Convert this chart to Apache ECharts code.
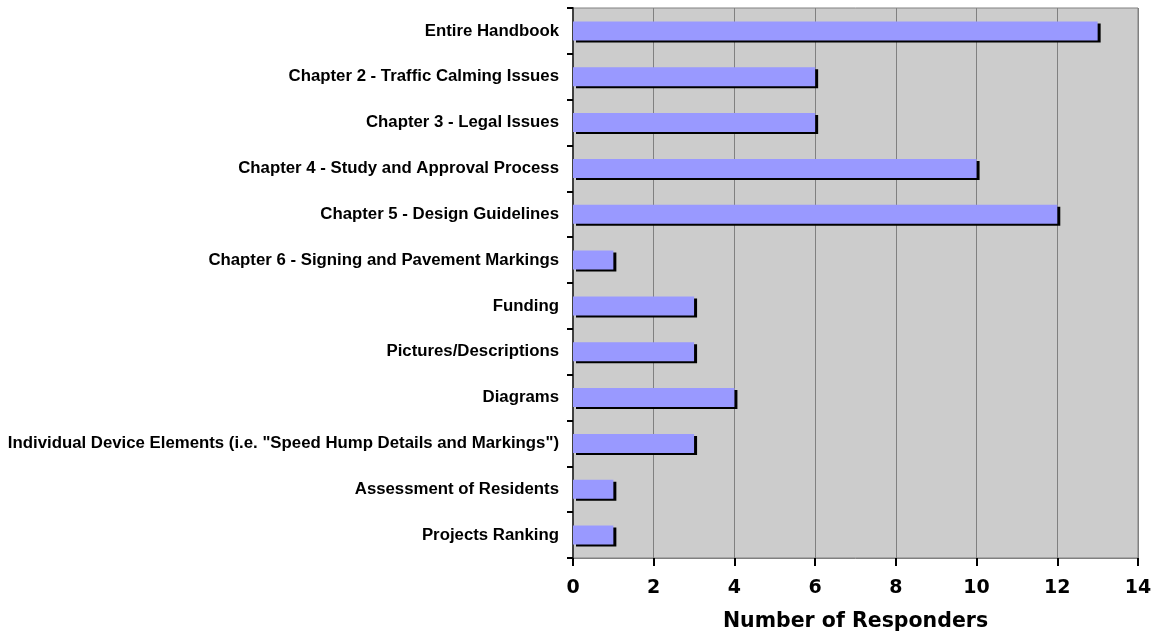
<!DOCTYPE html>
<html>
<head>
<meta charset="utf-8">
<script src="https://cdn.jsdelivr.net/npm/echarts@6/dist/echarts.min.js"></script>
<style>html,body{margin:0;padding:0;background:#fff}#c{width:1158px;height:637px}</style>
</head>
<body>
<div id="c"></div>
<script>
const categories = [
  "Entire Handbook",
  "Chapter 2 - Traffic Calming Issues",
  "Chapter 3 - Legal Issues",
  "Chapter 4 - Study and Approval Process",
  "Chapter 5 - Design Guidelines",
  "Chapter 6 - Signing and Pavement Markings",
  "Funding",
  "Pictures/Descriptions",
  "Diagrams",
  "Individual Device Elements (i.e. \"Speed Hump Details and Markings\")",
  "Assessment of Residents",
  "Projects Ranking"
];
const responders = [13, 6, 6, 10, 12, 1, 3, 3, 4, 3, 1, 1];
const xTicks = { min: 0, max: 14, interval: 2 };
const xTitle = "Number of Responders";

const chart = echarts.init(document.getElementById('c'), null, { renderer: 'canvas' });
chart.setOption({
  animation: false,
  grid: {
    left: 573, top: 8, right: 20, bottom: 78,
    show: true, backgroundColor: '#cccccc', borderColor: '#808080', borderWidth: 1
  },
  xAxis: {
    type: 'value', min: xTicks.min, max: xTicks.max, interval: xTicks.interval,
    name: xTitle, nameLocation: 'middle', nameGap: 53,
    nameTextStyle: { fontFamily: 'DejaVu Sans', fontWeight: 'bold', fontSize: 20.5, color: '#000' },
    axisLine: { show: true, lineStyle: { color: '#808080', width: 1 } },
    axisTick: { show: true, length: 8, lineStyle: { color: '#000', width: 2 } },
    axisLabel: { fontFamily: 'DejaVu Sans', fontWeight: 'bold', fontSize: 19, color: '#000', margin: 21 },
    splitLine: { show: true, lineStyle: { color: '#808080', width: 1 } }
  },
  yAxis: {
    type: 'category', data: categories, inverse: true,
    axisLine: { show: true, lineStyle: { color: '#404040', width: 2 } },
    axisTick: { show: true, length: 6, lineStyle: { color: '#000', width: 2 } },
    axisLabel: { fontFamily: 'Liberation Sans', fontWeight: 'bold', fontSize: 16.8, color: '#000', margin: 14 }
  },
  series: [{
    type: 'bar', data: responders, barWidth: 19,
    itemStyle: { color: '#9999ff', shadowColor: '#000', shadowOffsetX: 3, shadowOffsetY: 2, shadowBlur: 0 }
  }]
});
</script>
</body>
</html>
